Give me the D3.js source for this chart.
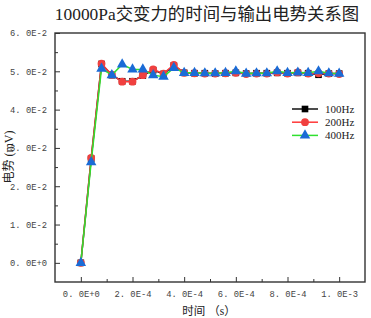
<!DOCTYPE html>
<html>
<head>
<meta charset="utf-8">
<script src="https://cdn.jsdelivr.net/npm/d3@7"></script>
<style>
  body { margin: 0; background: #fff; }
  svg { display: block; }
</style>
</head>
<body>
<svg width="371" height="318"></svg>
<script>
const times = [0, 4e-5, 8e-5, 1.2e-4, 1.6e-4, 2.0e-4, 2.4e-4, 2.8e-4, 3.2e-4, 3.6e-4, 4.0e-4, 4.4e-4, 4.8e-4,
  5.2e-4, 5.6e-4, 6.0e-4, 6.4e-4, 6.8e-4, 7.2e-4, 7.6e-4, 8.0e-4, 8.4e-4, 8.8e-4, 9.2e-4, 9.6e-4, 1.0e-3];
const hz100 = [0, 0.0272, 0.0519, 0.0490, 0.0474, 0.0474, 0.0489, 0.0503, 0.0493, 0.0515, 0.0496, 0.0495, 0.0495,
  0.0494, 0.0495, 0.0496, 0.0494, 0.0495, 0.0495, 0.0496, 0.0495, 0.0496, 0.0495, 0.0491, 0.0494, 0.0494];
const hz200 = [0, 0.0274, 0.0520, 0.0491, 0.0473, 0.0473, 0.0490, 0.0505, 0.0494, 0.0517, 0.0496, 0.0495, 0.0494,
  0.0494, 0.0495, 0.0496, 0.0493, 0.0494, 0.0494, 0.0497, 0.0494, 0.0497, 0.0494, 0.0495, 0.0494, 0.0493];
const hz400 = [0, 0.0263, 0.0507, 0.0490, 0.0518, 0.0505, 0.0505, 0.0490, 0.0486, 0.0509, 0.0496, 0.0496, 0.0495,
  0.0495, 0.0496, 0.0500, 0.0494, 0.0495, 0.0495, 0.0500, 0.0496, 0.0497, 0.0496, 0.0500, 0.0495, 0.0494];
const seriesNames = ["100Hz", "200Hz", "400Hz"];
const xTicks = [0, 2e-4, 4e-4, 6e-4, 8e-4, 1e-3];
const yTicks = [0, 0.01, 0.02, 0.03, 0.04, 0.05, 0.06];

const margin = { top: 33, right: 6, bottom: 36, left: 55 };
const width = 371 - margin.left - margin.right;
const height = 318 - margin.top - margin.bottom;

const svg = d3.select("svg");
const g = svg.append("g").attr("transform", "translate(" + margin.left + "," + margin.top + ")");

const x = d3.scaleLinear().domain([-1e-4, 1.1e-3]).range([0, width]);
const y = d3.scaleLinear().domain([-0.005, 0.06]).range([height, 0]);

const fmt = (d) => d.toExponential(1).replace("e", "E").replace(".", ". ");
const tickFont = "'Liberation Mono', 'DejaVu Sans Mono', monospace";

// axes: ticks pointing inward
g.append("g").attr("transform", "translate(0," + height + ")")
  .call(d3.axisBottom(x).tickValues(xTicks).tickSize(-5).tickPadding(9).tickFormat(fmt));
g.append("g").attr("transform", "translate(0," + height + ")")
  .call(d3.axisBottom(x).tickValues([1e-4, 3e-4, 5e-4, 7e-4, 9e-4]).tickSize(-3).tickFormat(""));
g.append("g")
  .call(d3.axisLeft(y).tickValues(yTicks).tickSize(-5).tickPadding(8).tickFormat(fmt));
g.append("g")
  .call(d3.axisLeft(y).tickValues([0.005, 0.015, 0.025, 0.035, 0.045, 0.055]).tickSize(-3).tickFormat(""));

g.selectAll(".domain").remove();
g.selectAll(".tick line").attr("stroke", "#333").attr("stroke-width", 1);
g.selectAll(".tick text").attr("fill", "#444").style("font-family", tickFont).style("font-size", "8.8px");

// frame
g.append("rect").attr("width", width).attr("height", height)
  .attr("fill", "none").attr("stroke", "#333").attr("stroke-width", 1.4);

const sets = [
  { name: seriesNames[0], vals: hz100, line: "#111", fill: "#000", shape: "square" },
  { name: seriesNames[1], vals: hz200, line: "#ff3838", fill: "#f0403f", shape: "circle" },
  { name: seriesNames[2], vals: hz400, line: "#2fe02f", fill: "#1a6bd6", shape: "triangle" }
];

const line = d3.line().x((d) => x(d[0])).y((d) => y(d[1]));
const symbolOf = { square: d3.symbolSquare, circle: d3.symbolCircle, triangle: d3.symbolTriangle };
const sizeOf = { square: 44, circle: 48, triangle: 48 };

sets.forEach((s) => {
  const pts = times.map((t, i) => [t, s.vals[i]]);
  g.append("path").datum(pts).attr("d", line)
    .attr("fill", "none").attr("stroke", s.line).attr("stroke-width", 1.5);
  g.selectAll(".m-" + s.shape).data(pts).enter().append("path")
    .attr("class", "m-" + s.shape)
    .attr("transform", (d) => "translate(" + x(d[0]) + "," + y(d[1]) + ")")
    .attr("d", d3.symbol().type(symbolOf[s.shape]).size(sizeOf[s.shape]))
    .attr("fill", s.fill);
});

// legend
const legend = g.append("g").attr("transform", "translate(" + (292 - margin.left) + "," + (109 - margin.top) + ")");
sets.forEach((s, i) => {
  const row = legend.append("g").attr("transform", "translate(0," + (i * 13.2) + ")");
  row.append("line").attr("x1", 0).attr("x2", 26).attr("stroke", s.line).attr("stroke-width", 1.5);
  row.append("path").attr("transform", "translate(13,0)")
    .attr("d", d3.symbol().type(symbolOf[s.shape]).size(sizeOf[s.shape])).attr("fill", s.fill);
  row.append("text").attr("x", 33).attr("y", 4)
    .style("font-family", "'Liberation Serif', serif").style("font-size", "11px").attr("fill", "#222")
    .text(s.name);
});

// titles
svg.append("text").attr("x", 207).attr("y", 20).attr("text-anchor", "middle")
  .style("font-family", "'Liberation Serif', 'Noto Sans CJK SC', serif").style("font-size", "17.4px").attr("fill", "#222")
  .text("10000Pa交变力的时间与输出电势关系图");
svg.append("text").attr("x", 209).attr("y", 315).attr("text-anchor", "middle")
  .style("font-family", "'Liberation Serif', 'Noto Sans CJK SC', serif").style("font-size", "11.5px").attr("fill", "#222")
  .text("时间 （s）");
svg.append("text").attr("transform", "translate(13,157) rotate(-90)").attr("text-anchor", "middle")
  .style("font-family", "'Liberation Serif', 'Noto Sans CJK SC', serif").style("font-size", "12px").attr("fill", "#222")
  .text("电势 (mV)");
</script>
</body>
</html>
